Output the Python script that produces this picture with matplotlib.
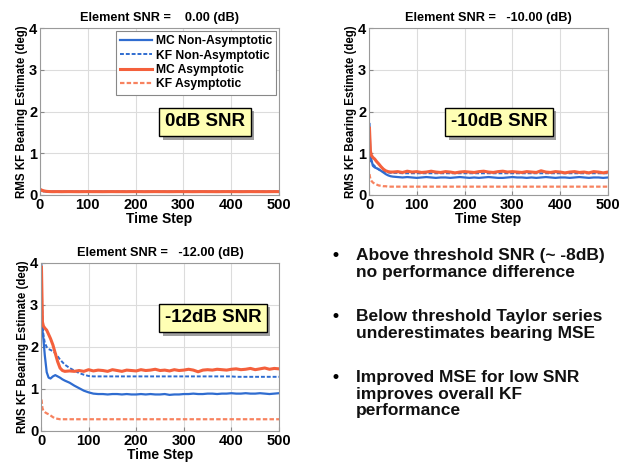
import matplotlib
matplotlib.use("Agg")
import matplotlib.pyplot as plt
import matplotlib.patheffects as pe

plt.rcParams['font.family'] = ['Liberation Sans', 'DejaVu Sans']
plt.rcParams['font.weight'] = 'bold'

# ---------------- data ----------------
t = [1, 3, 5, 8, 12, 16, 20, 25, 30, 35, 40, 45, 50,
     60, 70, 80, 90, 100, 110, 120, 130, 140, 150, 160, 170, 180, 190, 200,
     210, 220, 230, 240, 250, 260, 270, 280, 290, 300, 310, 320, 330, 340, 350,
     360, 370, 380, 390, 400, 410, 420, 430, 440, 450, 460, 470, 480, 490, 500]

series_labels = ["MC Non-Asymptotic", "KF Non-Asymptotic", "MC Asymptotic", "KF Asymptotic"]
panel_titles = ["Element SNR =    0.00 (dB)", "Element SNR =   -10.00 (dB)", "Element SNR =   -12.00 (dB)"]
box_labels = ["0dB SNR", "-10dB SNR", "-12dB SNR"]

# 0 dB
mc_na_0 = [0.13, 0.11, 0.10, 0.09, 0.085, 0.08, 0.08, 0.08, 0.08, 0.08, 0.08, 0.08, 0.08,
           0.08, 0.08, 0.08, 0.08, 0.08, 0.08, 0.08, 0.08, 0.08, 0.08, 0.08, 0.08, 0.08, 0.08, 0.08,
           0.08, 0.08, 0.08, 0.08, 0.08, 0.08, 0.08, 0.08, 0.08, 0.08, 0.08, 0.08, 0.08, 0.08, 0.08,
           0.08, 0.08, 0.08, 0.08, 0.08, 0.08, 0.08, 0.08, 0.08, 0.08, 0.08, 0.08, 0.08, 0.08, 0.08]
kf_na_0 = [0.12, 0.10, 0.095, 0.09, 0.085, 0.08, 0.08, 0.08, 0.08, 0.08, 0.08, 0.08, 0.08,
           0.08, 0.08, 0.08, 0.08, 0.08, 0.08, 0.08, 0.08, 0.08, 0.08, 0.08, 0.08, 0.08, 0.08, 0.08,
           0.08, 0.08, 0.08, 0.08, 0.08, 0.08, 0.08, 0.08, 0.08, 0.08, 0.08, 0.08, 0.08, 0.08, 0.08,
           0.08, 0.08, 0.08, 0.08, 0.08, 0.08, 0.08, 0.08, 0.08, 0.08, 0.08, 0.08, 0.08, 0.08, 0.08]
mc_a_0 = [0.13, 0.12, 0.11, 0.10, 0.09, 0.085, 0.082, 0.08, 0.08, 0.081, 0.08, 0.079, 0.08,
          0.081, 0.08, 0.079, 0.08, 0.081, 0.08, 0.08, 0.079, 0.08, 0.081, 0.08, 0.08, 0.079, 0.08, 0.081,
          0.08, 0.079, 0.08, 0.081, 0.08, 0.08, 0.079, 0.08, 0.081, 0.08, 0.08, 0.079, 0.08, 0.081, 0.08,
          0.08, 0.079, 0.08, 0.081, 0.08, 0.08, 0.079, 0.08, 0.081, 0.08, 0.08, 0.079, 0.08, 0.081, 0.08]
kf_a_0 = [0.12, 0.10, 0.095, 0.09, 0.085, 0.08, 0.078, 0.077, 0.077, 0.077, 0.077, 0.077, 0.077,
          0.077, 0.077, 0.077, 0.077, 0.077, 0.077, 0.077, 0.077, 0.077, 0.077, 0.077, 0.077, 0.077, 0.077, 0.077,
          0.077, 0.077, 0.077, 0.077, 0.077, 0.077, 0.077, 0.077, 0.077, 0.077, 0.077, 0.077, 0.077, 0.077, 0.077,
          0.077, 0.077, 0.077, 0.077, 0.077, 0.077, 0.077, 0.077, 0.077, 0.077, 0.077, 0.077, 0.077, 0.077, 0.077]

# -10 dB
mc_na_10 = [1.70, 0.90, 0.85, 0.70, 0.66, 0.64, 0.62, 0.58, 0.54, 0.50, 0.47, 0.45, 0.44,
            0.43, 0.42, 0.43, 0.42, 0.41, 0.42, 0.43, 0.42, 0.41, 0.42, 0.42, 0.41, 0.42, 0.43, 0.42,
            0.41, 0.42, 0.41, 0.42, 0.43, 0.42, 0.41, 0.41, 0.42, 0.43, 0.42, 0.42, 0.41, 0.42, 0.41,
            0.42, 0.43, 0.42, 0.41, 0.42, 0.42, 0.41, 0.42, 0.43, 0.42, 0.41, 0.42, 0.42, 0.41, 0.42]
kf_na_10 = [0.85, 0.82, 0.80, 0.74, 0.69, 0.65, 0.61, 0.58, 0.56, 0.55, 0.54, 0.53, 0.53,
            0.53, 0.52, 0.52, 0.52, 0.52, 0.52, 0.52, 0.52, 0.52, 0.52, 0.52, 0.52, 0.52, 0.52, 0.52,
            0.52, 0.52, 0.52, 0.52, 0.52, 0.52, 0.52, 0.52, 0.52, 0.52, 0.52, 0.52, 0.52, 0.52, 0.52,
            0.52, 0.52, 0.52, 0.52, 0.52, 0.52, 0.52, 0.52, 0.52, 0.52, 0.52, 0.52, 0.52, 0.52, 0.52]
mc_a_10 = [1.60, 1.05, 0.95, 0.90, 0.86, 0.80, 0.75, 0.68, 0.62, 0.58, 0.56, 0.55, 0.55,
           0.56, 0.54, 0.57, 0.55, 0.56, 0.54, 0.55, 0.57, 0.55, 0.54, 0.56, 0.55, 0.53, 0.55, 0.56,
           0.55, 0.54, 0.56, 0.57, 0.55, 0.54, 0.56, 0.57, 0.55, 0.56, 0.55, 0.54, 0.56, 0.55, 0.54,
           0.58, 0.55, 0.54, 0.56, 0.55, 0.53, 0.55, 0.56, 0.54, 0.55, 0.53, 0.56, 0.55, 0.53, 0.55]
kf_a_10 = [0.50, 0.38, 0.34, 0.30, 0.27, 0.25, 0.23, 0.22, 0.21, 0.21, 0.20, 0.20, 0.20,
           0.20, 0.20, 0.20, 0.20, 0.20, 0.20, 0.20, 0.20, 0.20, 0.20, 0.20, 0.20, 0.20, 0.20, 0.20,
           0.20, 0.20, 0.20, 0.20, 0.20, 0.20, 0.20, 0.20, 0.20, 0.20, 0.20, 0.20, 0.20, 0.20, 0.20,
           0.20, 0.20, 0.20, 0.20, 0.20, 0.20, 0.20, 0.20, 0.20, 0.20, 0.20, 0.20, 0.20, 0.20, 0.20]

# -12 dB
mc_na_12 = [3.50, 2.40, 2.20, 1.80, 1.40, 1.27, 1.25, 1.30, 1.33, 1.30, 1.27, 1.23, 1.20,
            1.15, 1.08, 1.02, 0.96, 0.92, 0.89, 0.88, 0.88, 0.87, 0.88, 0.88, 0.87, 0.88, 0.87, 0.87,
            0.88, 0.87, 0.88, 0.87, 0.87, 0.88, 0.86, 0.87, 0.87, 0.88, 0.88, 0.89, 0.88, 0.88, 0.89,
            0.89, 0.88, 0.89, 0.89, 0.90, 0.89, 0.89, 0.90, 0.89, 0.89, 0.90, 0.89, 0.88, 0.89, 0.90]
kf_na_12 = [4.00, 2.60, 2.30, 2.10, 2.00, 1.95, 1.93, 1.90, 1.85, 1.78, 1.70, 1.64, 1.58,
            1.50, 1.44, 1.38, 1.34, 1.31, 1.30, 1.30, 1.30, 1.30, 1.30, 1.30, 1.30, 1.30, 1.30, 1.30,
            1.30, 1.30, 1.30, 1.30, 1.30, 1.30, 1.30, 1.30, 1.30, 1.30, 1.30, 1.30, 1.30, 1.30, 1.30,
            1.30, 1.30, 1.30, 1.30, 1.30, 1.29, 1.29, 1.29, 1.29, 1.29, 1.29, 1.29, 1.29, 1.29, 1.29]
mc_a_12 = [3.90, 2.60, 2.50, 2.45, 2.40, 2.30, 2.20, 2.05, 1.85, 1.65, 1.50, 1.44, 1.42,
           1.43, 1.42, 1.44, 1.42, 1.46, 1.43, 1.45, 1.44, 1.42, 1.46, 1.44, 1.42, 1.45, 1.44, 1.43,
           1.46, 1.44, 1.45, 1.47, 1.44, 1.45, 1.43, 1.46, 1.44, 1.45, 1.47, 1.45, 1.41, 1.45, 1.46,
           1.45, 1.47, 1.46, 1.45, 1.47, 1.48, 1.46, 1.47, 1.49, 1.46, 1.48, 1.50, 1.47, 1.49, 1.48]
kf_a_12 = [0.75, 0.55, 0.48, 0.45, 0.42, 0.40, 0.37, 0.33, 0.30, 0.29, 0.28, 0.28, 0.28,
           0.28, 0.28, 0.28, 0.28, 0.28, 0.28, 0.28, 0.28, 0.28, 0.28, 0.28, 0.28, 0.28, 0.28, 0.28,
           0.28, 0.28, 0.28, 0.28, 0.28, 0.28, 0.28, 0.28, 0.28, 0.28, 0.28, 0.28, 0.28, 0.28, 0.28,
           0.28, 0.28, 0.28, 0.28, 0.28, 0.28, 0.28, 0.28, 0.28, 0.28, 0.28, 0.28, 0.28, 0.28, 0.28]

panels = [
    (mc_na_0, kf_na_0, mc_a_0, kf_a_0),
    (mc_na_10, kf_na_10, mc_a_10, kf_a_10),
    (mc_na_12, kf_na_12, mc_a_12, kf_a_12),
]

bullets = [
    ["Above threshold SNR (~ -8dB)", "no performance difference"],
    ["Below threshold Taylor series", "underestimates bearing MSE"],
    ["Improved MSE for low SNR", "improves overall KF", "performance"],
]

# ---------------- layout ----------------
W, H = 628, 462
fig = plt.figure(figsize=(W / 100, H / 100), dpi=100)
fig.patch.set_facecolor('white')

def px_axes(x0, y0, x1, y1):
    return fig.add_axes([x0 / W, 1 - y1 / H, (x1 - x0) / W, (y1 - y0) / H])

axes = [px_axes(40, 28, 279, 195), px_axes(369, 28, 608, 195), px_axes(41, 263, 279, 431)]
box_pos = [(205, 122), (499, 122), (213, 318)]

BLUE = '#2f6cd0'
ORANGE = '#f4603c'
ORANGE_L = '#f7825f'

styles = [
    dict(color=BLUE, lw=1.6, ls='-'),
    dict(color=BLUE, lw=1.4, ls=(0, (2, 1))),
    dict(color=ORANGE, lw=2.2, ls='-'),
    dict(color=ORANGE_L, lw=1.6, ls=(0, (2, 1))),
]

for i, (ax, data) in enumerate(zip(axes, panels)):
    order = [0, 1, 2, 3] if i > 0 else [0, 1, 3, 2]
    handles = {}
    for k in order:
        h, = ax.plot(t, data[k], label=series_labels[k], **styles[k])
        handles[k] = h
    ax.set_xlim(0, 500)
    ax.set_ylim(0, 4)
    ax.set_xticks([0, 100, 200, 300, 400, 500])
    ax.set_yticks([0, 1, 2, 3, 4])
    ax.grid(True, color='#dcdcdc', lw=0.8)
    ax.set_axisbelow(True)
    ax.tick_params(direction='in', length=3, labelsize=10.5, color='#888888', pad=2)
    for lab in ax.get_xticklabels() + ax.get_yticklabels():
        lab.set_fontweight('bold')
    for s in ax.spines.values():
        s.set_color('#9a9a9a')
        s.set_linewidth(0.8)
    ax.set_title(panel_titles[i], fontsize=9.2, fontweight='bold', pad=5)
    ax.set_xlabel("Time Step", fontsize=10, fontweight='bold', labelpad=0)
    ax.set_ylabel("RMS KF Bearing Estimate (deg)", fontsize=8.3, fontweight='bold', labelpad=1)
    if i == 0:
        leg = ax.legend([handles[k] for k in range(4)], series_labels, loc='upper right',
                        handlelength=2.6, handletextpad=0.3, borderpad=0.35,
                        labelspacing=0.2, fancybox=False, framealpha=1,
                        borderaxespad=0.25, prop={'weight': 'bold', 'size': 8.7})
        leg.get_frame().set_edgecolor('#888888')
        leg.get_frame().set_linewidth(0.8)
    bx, by = box_pos[i]
    txt = fig.text(bx / W, 1 - by / H, box_labels[i], fontsize=13.5, fontweight='bold',
                   ha='center', va='center', zorder=10,
                   bbox=dict(boxstyle='square,pad=0.3', facecolor='#ffffb4',
                             edgecolor='black', linewidth=1.0))
    txt.get_bbox_patch().set_path_effects([
        pe.withSimplePatchShadow(offset=(2.5, -2.5), shadow_rgbFace='#777777', alpha=0.7)])

# bullets (baselines in pixels)
line_y = [[260, 277], [321, 338], [382, 399, 415]]
for block, ys in zip(bullets, line_y):
    fig.text(335 / W, 1 - ys[0] / H, "\u2022", fontsize=12.5, fontweight='bold',
             ha='center', va='baseline')
    for line, y in zip(block, ys):
        fig.text(356 / W, 1 - y / H, line, fontsize=12.5, fontweight='bold',
                 ha='left', va='baseline', color='#111111')

fig.savefig('out.png', dpi=100, facecolor='white')
